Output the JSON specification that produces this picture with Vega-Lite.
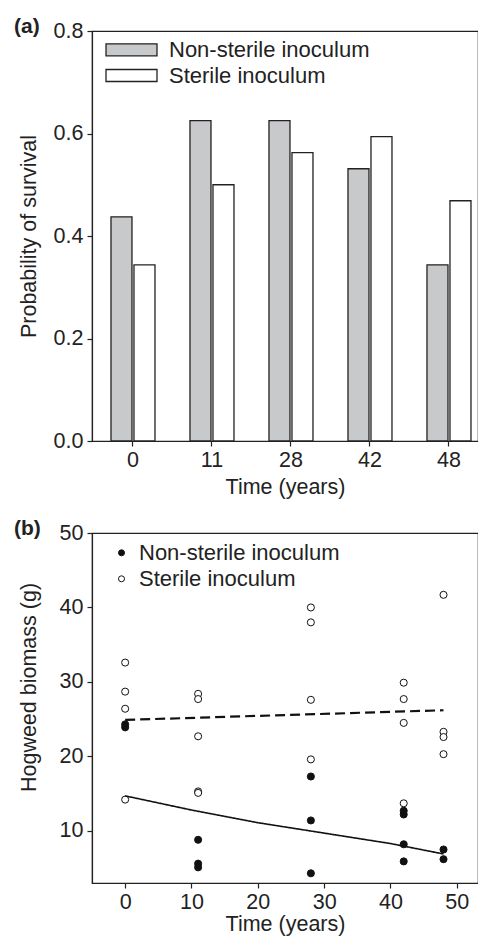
{
  "$schema": "https://vega.github.io/schema/vega-lite/v6.json",
  "padding": {"left": 13, "top": 15, "right": 0, "bottom": 0},
  "spacing": 92,
  "bounds": "flush",
  "resolve": {"scale": {"fill": "independent", "strokeDash": "independent", "strokeWidth": "independent"}, "legend": {"fill": "independent"}},
  "config": {
    "font": "Liberation Sans",
    "view": {"stroke": "#222", "strokeWidth": 1.2},
    "axis": {"labelFontSize": 21.5, "titleFontSize": 21.5, "titleFontWeight": "normal", "labelColor": "#222", "titleColor": "#222", "domainColor": "#222", "tickColor": "#222", "tickSize": 5, "grid": false, "domainWidth": 1.2, "tickWidth": 1.2, "labelPadding": 3},
    "axisY": {"labelPadding": 4},
    "title": {"fontSize": 21, "fontWeight": "bold", "color": "#222", "anchor": "start", "frame": "group", "dx": -78, "baseline": "middle", "offset": 0, "dy": 21},
    "legend": {"labelFontSize": 22, "labelColor": "#222", "padding": 0, "direction": "vertical", "orient": "none", "labelLimit": 400}
  },
  "vconcat": [
    {
      "width": 386,
      "height": 410,
      "title": "(a)",
      "data": {"values": [
        {"time": 0, "inoculum": "Non-sterile inoculum", "p": 0.4375},
        {"time": 0, "inoculum": "Sterile inoculum", "p": 0.34375},
        {"time": 11, "inoculum": "Non-sterile inoculum", "p": 0.625},
        {"time": 11, "inoculum": "Sterile inoculum", "p": 0.5},
        {"time": 28, "inoculum": "Non-sterile inoculum", "p": 0.625},
        {"time": 28, "inoculum": "Sterile inoculum", "p": 0.5625},
        {"time": 42, "inoculum": "Non-sterile inoculum", "p": 0.53125},
        {"time": 42, "inoculum": "Sterile inoculum", "p": 0.59375},
        {"time": 48, "inoculum": "Non-sterile inoculum", "p": 0.34375},
        {"time": 48, "inoculum": "Sterile inoculum", "p": 0.46875}
      ]},
      "mark": {"type": "bar", "stroke": "#222", "strokeWidth": 1.3},
      "encoding": {
        "x": {"field": "time", "type": "ordinal", "scale": {"paddingInner": 0.443, "paddingOuter": 0.1646, "align": 0.73}, "axis": {"title": "Time (years)", "labelAngle": 0, "titlePadding": 6}},
        "xOffset": {"field": "inoculum", "type": "nominal", "sort": ["Non-sterile inoculum", "Sterile inoculum"], "scale": {"paddingInner": 0.087, "paddingOuter": 0}},
        "y": {"field": "p", "type": "quantitative", "scale": {"domain": [0, 0.8], "nice": false}, "axis": {"title": "Probability of survival", "values": [0, 0.2, 0.4, 0.6, 0.8], "format": ".1f", "titlePadding": 13}},
        "fill": {"field": "inoculum", "type": "nominal", "sort": ["Non-sterile inoculum", "Sterile inoculum"], "scale": {"range": ["#c8c9cb", "#ffffff"]},
          "legend": {"title": null, "legendX": 26, "legendY": 5.3, "symbolType": "M-2,-0.47H2V0.47H-2Z", "symbolSize": 650, "symbolStrokeColor": "#222", "symbolStrokeWidth": 1.3, "symbolOpacity": 1, "labelOffset": 24, "rowPadding": 0.7}}
      }
    },
    {
      "width": 386,
      "height": 350,
      "title": "(b)",
      "layer": [
        {
          "data": {"values": [
            {"time": 0, "biomass": 24.3, "inoculum": "Non-sterile inoculum"},
            {"time": 0, "biomass": 23.9, "inoculum": "Non-sterile inoculum"},
            {"time": 11, "biomass": 8.8, "inoculum": "Non-sterile inoculum"},
            {"time": 11, "biomass": 5.6, "inoculum": "Non-sterile inoculum"},
            {"time": 11, "biomass": 5.1, "inoculum": "Non-sterile inoculum"},
            {"time": 28, "biomass": 17.3, "inoculum": "Non-sterile inoculum"},
            {"time": 28, "biomass": 11.4, "inoculum": "Non-sterile inoculum"},
            {"time": 28, "biomass": 4.3, "inoculum": "Non-sterile inoculum"},
            {"time": 42, "biomass": 12.7, "inoculum": "Non-sterile inoculum"},
            {"time": 42, "biomass": 12.2, "inoculum": "Non-sterile inoculum"},
            {"time": 42, "biomass": 8.2, "inoculum": "Non-sterile inoculum"},
            {"time": 42, "biomass": 5.9, "inoculum": "Non-sterile inoculum"},
            {"time": 48, "biomass": 7.5, "inoculum": "Non-sterile inoculum"},
            {"time": 48, "biomass": 6.2, "inoculum": "Non-sterile inoculum"},
            {"time": 0, "biomass": 32.6, "inoculum": "Sterile inoculum"},
            {"time": 0, "biomass": 28.7, "inoculum": "Sterile inoculum"},
            {"time": 0, "biomass": 26.4, "inoculum": "Sterile inoculum"},
            {"time": 0, "biomass": 14.2, "inoculum": "Sterile inoculum"},
            {"time": 11, "biomass": 28.4, "inoculum": "Sterile inoculum"},
            {"time": 11, "biomass": 27.7, "inoculum": "Sterile inoculum"},
            {"time": 11, "biomass": 22.7, "inoculum": "Sterile inoculum"},
            {"time": 11, "biomass": 15.3, "inoculum": "Sterile inoculum"},
            {"time": 11, "biomass": 15.1, "inoculum": "Sterile inoculum"},
            {"time": 28, "biomass": 40.0, "inoculum": "Sterile inoculum"},
            {"time": 28, "biomass": 38.0, "inoculum": "Sterile inoculum"},
            {"time": 28, "biomass": 27.6, "inoculum": "Sterile inoculum"},
            {"time": 28, "biomass": 19.6, "inoculum": "Sterile inoculum"},
            {"time": 42, "biomass": 29.9, "inoculum": "Sterile inoculum"},
            {"time": 42, "biomass": 27.7, "inoculum": "Sterile inoculum"},
            {"time": 42, "biomass": 24.5, "inoculum": "Sterile inoculum"},
            {"time": 42, "biomass": 13.7, "inoculum": "Sterile inoculum"},
            {"time": 48, "biomass": 41.7, "inoculum": "Sterile inoculum"},
            {"time": 48, "biomass": 23.3, "inoculum": "Sterile inoculum"},
            {"time": 48, "biomass": 22.6, "inoculum": "Sterile inoculum"},
            {"time": 48, "biomass": 20.3, "inoculum": "Sterile inoculum"}
          ]},
          "mark": {"type": "point", "shape": "circle", "filled": true, "size": 50, "stroke": "#111", "strokeWidth": 1, "opacity": 1},
          "encoding": {
            "x": {"field": "time", "type": "quantitative", "scale": {"domain": [-5, 53.2], "nice": false, "zero": false}, "axis": {"title": "Time (years)", "values": [0, 10, 20, 30, 40, 50], "titlePadding": 1}},
            "y": {"field": "biomass", "type": "quantitative", "scale": {"domain": [3, 50], "nice": false, "zero": false}, "axis": {"title": "Hogweed biomass (g)", "values": [10, 20, 30, 40, 50], "titlePadding": 19, "titleY": 154}},
            "fill": {"field": "inoculum", "type": "nominal", "sort": ["Non-sterile inoculum", "Sterile inoculum"], "scale": {"range": ["#111111", "#ffffff"]},
              "legend": {"title": null, "legendX": 18.5, "legendY": 8.8, "symbolType": "circle", "symbolSize": 36, "symbolStrokeColor": "#111", "symbolStrokeWidth": 1, "symbolOpacity": 1, "labelOffset": 6.5, "rowPadding": 4}}
          }
        },
        {
          "data": {"values": [
            {"time": 0, "fit": 14.7, "inoculum": "Non-sterile inoculum"},
            {"time": 10, "fit": 12.8, "inoculum": "Non-sterile inoculum"},
            {"time": 20, "fit": 11.1, "inoculum": "Non-sterile inoculum"},
            {"time": 30, "fit": 9.7, "inoculum": "Non-sterile inoculum"},
            {"time": 40, "fit": 8.3, "inoculum": "Non-sterile inoculum"},
            {"time": 48, "fit": 6.9, "inoculum": "Non-sterile inoculum"},
            {"time": 0, "fit": 24.9, "inoculum": "Sterile inoculum"},
            {"time": 48, "fit": 26.2, "inoculum": "Sterile inoculum"}
          ]},
          "mark": {"type": "line", "color": "#111"},
          "encoding": {
            "x": {"field": "time", "type": "quantitative"},
            "y": {"field": "fit", "type": "quantitative"},
            "strokeDash": {"field": "inoculum", "type": "nominal", "sort": ["Non-sterile inoculum", "Sterile inoculum"], "scale": {"range": [[1, 0], [10, 5]]}, "legend": null},
            "strokeWidth": {"field": "inoculum", "type": "nominal", "sort": ["Non-sterile inoculum", "Sterile inoculum"], "scale": {"range": [1.6, 2.2]}, "legend": null}
          }
        }
      ]
    }
  ]
}
